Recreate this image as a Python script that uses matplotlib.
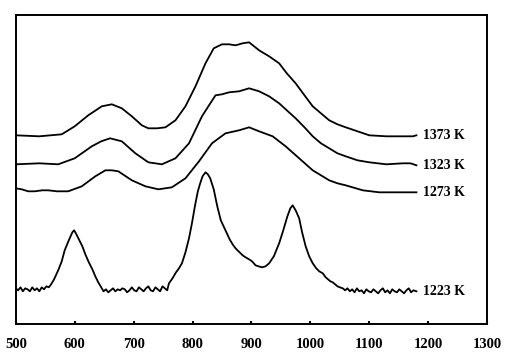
import matplotlib
matplotlib.use("Agg")
import matplotlib.pyplot as plt

# Raman-like spectra, wavenumber vs. intensity (arbitrary units, offset stacked)
x_1373 = [500, 540, 578, 600, 623, 646, 663, 680, 697, 714, 725, 740, 754, 771, 788,
          805, 822, 836, 850, 862, 873, 885, 896, 913, 930, 947, 960, 975, 990, 1004,
          1018, 1032, 1046, 1060, 1080, 1100, 1129, 1150, 1174, 1180]
y_1373 = [189, 188, 190, 198, 209, 218, 220, 216, 208, 199, 196, 196, 197, 204, 218,
          238, 261, 276, 280, 280, 279, 281, 282, 274, 268, 261, 251, 241, 229, 218,
          211, 204, 200, 197, 193, 189, 188, 188, 188, 189]

x_1323 = [500, 540, 572, 600, 629, 645, 660, 680, 703, 725, 748, 771, 794, 816, 828,
          839, 850, 862, 879, 896, 913, 930, 947, 960, 975, 990, 1004, 1018, 1032, 1046,
          1060, 1080, 1100, 1129, 1157, 1170, 1180]
y_1323 = [160, 161, 160, 166, 178, 183, 186, 183, 171, 162, 160, 166, 181, 208, 219,
          229, 230, 232, 233, 236, 233, 228, 221, 214, 206, 197, 188, 181, 176, 171,
          168, 164, 162, 160, 161, 161, 159]

x_1273 = [500, 510, 521, 532, 545, 555, 570, 589, 612, 635, 652, 663, 674, 697, 720,
          742, 765, 788, 811, 833, 856, 879, 896, 913, 936, 958, 981, 1004, 1018, 1032,
          1046, 1060, 1089, 1117, 1150, 1180]
y_1273 = [136, 135, 133, 133, 134, 134, 133, 133, 138, 148, 154, 154, 153, 144, 138,
          135, 137, 146, 163, 181, 191, 194, 197, 193, 188, 178, 166, 154, 149, 144,
          141, 139, 134, 132, 132, 132]

x_1223 = [500, 504, 508, 512, 516, 520, 524, 528, 532, 536, 540, 544, 548, 552, 556,
          560, 565, 572, 578, 583, 590, 596, 599, 602, 608, 613, 618, 624, 630, 635,
          640, 645, 649, 653, 657, 661, 665, 669, 673, 677, 681, 685, 689, 693, 697,
          701, 705, 709, 713, 717, 721, 725, 729, 733, 737, 741, 745, 749, 753, 757,
          760, 766, 772, 777, 782, 788, 794, 799, 804, 809, 813, 817, 822, 826, 830,
          836, 842, 848, 856, 863, 868, 873, 880, 885, 890, 896, 901, 907, 912, 918,
          924, 930, 938, 947, 954, 961, 966, 970, 975, 981, 986, 992, 998, 1004, 1010,
          1015, 1021, 1026, 1030, 1034, 1038, 1042, 1046, 1050, 1055, 1059, 1063, 1067,
          1071, 1075, 1079, 1083, 1087, 1091, 1095, 1099, 1103, 1107, 1111, 1115, 1119,
          1123, 1127, 1131, 1135, 1139, 1143, 1147, 1151, 1155, 1159, 1163, 1167, 1171,
          1175, 1180]
y_1223 = [36, 34, 37, 33, 36, 35, 33, 37, 34, 36, 33, 37, 35, 38, 37,
          40, 45, 54, 63, 74, 84, 92, 94, 91, 84, 78, 70, 62, 55, 48,
          42, 37, 33, 35, 32, 34, 36, 33, 35, 34, 36, 35, 32, 34, 37,
          34, 33, 37, 35, 33, 36, 38, 34, 33, 37, 35, 33, 38, 36, 34,
          41, 46, 52, 56, 61, 72, 86, 101, 118, 133, 141, 148, 152, 150, 146,
          135, 118, 104, 94, 85, 80, 76, 72, 69, 67, 65, 63, 59, 58, 57,
          58, 61, 68, 81, 94, 108, 116, 119, 114, 106, 92, 78, 68, 61, 56,
          53, 51, 47, 45, 43, 42, 40, 38, 37, 36, 34, 36, 33,
          35, 32, 36, 33, 34, 31, 35, 33, 32, 35, 33, 31, 34,
          36, 32, 34, 31, 35, 33, 32, 35, 33, 31, 34, 36, 32,
          34, 33]

labels = ["1373 K", "1323 K", "1273 K", "1223 K"]
xticks = [500, 600, 700, 800, 900, 1000, 1100, 1200, 1300]

fig = plt.figure(figsize=(5.09, 3.56), dpi=100)
ax = fig.add_axes([0.031, 0.089, 0.926, 0.868])

series = [(x_1373, y_1373), (x_1323, y_1323), (x_1273, y_1273), (x_1223, y_1223)]
for (xs, ys), lab in zip(series, labels):
    ax.plot(xs, ys, color="black", lw=1.3)
    ax.text(xs[-1] + 12, ys[-1], lab, va="center", ha="left",
            fontsize=10, fontweight="bold", family="Liberation Serif")

ax.set_xlim(500, 1300)
ax.set_ylim(0, 309)
ax.set_xticks(xticks)
ax.set_xticklabels([str(t) for t in xticks], fontsize=10.5, fontweight="bold",
                   family="Liberation Serif")
ax.set_yticks([])
ax.tick_params(axis="x", direction="in", length=2, width=1.5, pad=10)
for sp in ax.spines.values():
    sp.set_linewidth(1.4)

fig.savefig("out.png", dpi=100)
